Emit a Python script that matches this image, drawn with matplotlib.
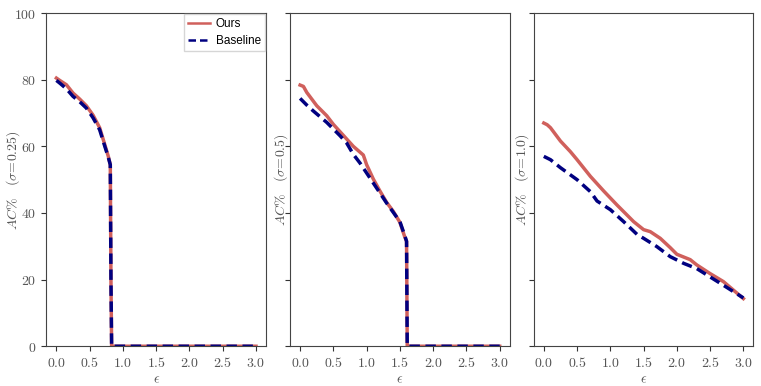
import numpy as np
import matplotlib
matplotlib.use("Agg")
import matplotlib.pyplot as plt

plt.rcParams['mathtext.fontset'] = 'cm'
plt.rcParams['font.family'] = 'DejaVu Sans'

# sigma = 0.25
eps1_ours = [0.0, 0.05, 0.15, 0.25, 0.35, 0.45, 0.55, 0.65, 0.72, 0.78, 0.81, 0.82, 0.83, 1.0, 2.0, 3.0]
acc1_ours = [80.5, 79.8, 78.5, 76.0, 74.2, 72.2, 69.4, 65.6, 61.0, 57.0, 54.5, 20.0, 0.0, 0.0, 0.0, 0.0]
eps1_base = [0.0, 0.05, 0.15, 0.25, 0.35, 0.45, 0.55, 0.65, 0.72, 0.78, 0.81, 0.82, 0.83, 1.0, 2.0, 3.0]
acc1_base = [79.8, 79.0, 77.3, 75.0, 73.4, 71.5, 68.6, 65.0, 60.5, 56.7, 54.5, 20.0, 0.0, 0.0, 0.0, 0.0]

# sigma = 0.5
eps2_ours = [0.0, 0.05, 0.1, 0.25, 0.4, 0.5, 0.7, 0.8, 0.95, 1.0, 1.1, 1.2, 1.3, 1.4, 1.5, 1.57, 1.6, 1.61, 2.0, 3.0]
acc2_ours = [78.4, 78.0, 76.2, 72.2, 69.2, 66.6, 62.2, 60.0, 57.4, 54.5, 50.2, 46.6, 43.2, 40.5, 37.2, 33.0, 31.5, 0.0, 0.0, 0.0]
eps2_base = [0.0, 0.1, 0.2, 0.4, 0.6, 0.7, 0.8, 0.9, 1.0, 1.1, 1.2, 1.3, 1.4, 1.5, 1.57, 1.6, 1.61, 2.0, 3.0]
acc2_base = [74.4, 72.4, 70.6, 67.2, 63.2, 61.0, 57.6, 55.0, 52.0, 49.0, 46.0, 43.0, 40.2, 37.4, 33.4, 31.5, 0.0, 0.0, 0.0]

# sigma = 1.0
eps3_ours = [0.0, 0.05, 0.1, 0.25, 0.4, 0.5, 0.7, 0.9, 1.1, 1.2, 1.35, 1.5, 1.6, 1.75, 1.9, 2.0, 2.2, 2.3, 2.5, 2.7, 3.0]
acc3_ours = [67.0, 66.5, 65.6, 61.6, 58.4, 56.0, 51.0, 46.6, 42.4, 40.4, 37.4, 35.0, 34.4, 32.4, 29.6, 27.6, 26.0, 24.4, 21.8, 19.4, 14.3]
eps3_base = [0.0, 0.1, 0.25, 0.5, 0.7, 0.8, 1.0, 1.2, 1.4, 1.5, 1.7, 1.9, 2.1, 2.3, 2.5, 2.7, 3.0]
acc3_base = [57.0, 56.0, 53.6, 50.0, 46.4, 43.6, 41.0, 37.4, 33.6, 32.4, 29.9, 26.9, 24.9, 23.3, 20.8, 18.3, 14.5]

sigmas = ['0.25', '0.5', '1.0']
xticks = [0.0, 0.5, 1.0, 1.5, 2.0, 2.5, 3.0]
yticks = [0, 20, 40, 60, 80, 100]

ours_color = '#d0605c'
base_color = '#000080'
text_gray = '#555555'

fig, axes = plt.subplots(1, 3, figsize=(7.61, 3.86), dpi=100, sharey=True)
fig.subplots_adjust(left=0.061, right=0.99, top=0.966, bottom=0.103, wspace=0.11)

data = [(eps1_ours, acc1_ours, eps1_base, acc1_base),
        (eps2_ours, acc2_ours, eps2_base, acc2_base),
        (eps3_ours, acc3_ours, eps3_base, acc3_base)]

label_x = [-0.112, 0.0, -0.012]

for i, ax in enumerate(axes):
    eo, ao, eb, ab = data[i]
    ax.plot(eo, ao, color=ours_color, lw=2.5, label='Ours')
    ax.plot(eb, ab, color=base_color, lw=2.5, ls=(0, (3, 1.6)), label='Baseline')
    ax.set_xlim(-0.15, 3.15)
    ax.set_ylim(0, 100)
    ax.set_xticks(xticks)
    ax.set_xticklabels(['$%.1f$' % t for t in xticks])
    ax.set_yticks(yticks)
    ax.set_yticklabels(['$%d$' % t for t in yticks])
    ax.tick_params(labelsize=10, colors='#333333', labelcolor=text_gray)
    for s in ax.spines.values():
        s.set_color('#444444')
    ax.set_xlabel(r'$\epsilon$', color=text_gray, fontsize=10, labelpad=2)
    ax.set_ylabel(r'$AC\%\quad(\sigma\!=\!' + sigmas[i] + ')$', color=text_gray, fontsize=10)
    ax.yaxis.set_label_coords(label_x[i], 0.5)

leg = axes[0].legend(loc='upper right', prop={'family': ['Liberation Sans', 'DejaVu Sans'], 'size': 8.5},
                     handlelength=1.8, borderaxespad=0.1, borderpad=0.35, handletextpad=0.5,
                     edgecolor='#cccccc', fancybox=False, labelspacing=0.4)
for line in leg.get_lines():
    line.set_linewidth(1.8)

fig.savefig('out.png', dpi=100)
